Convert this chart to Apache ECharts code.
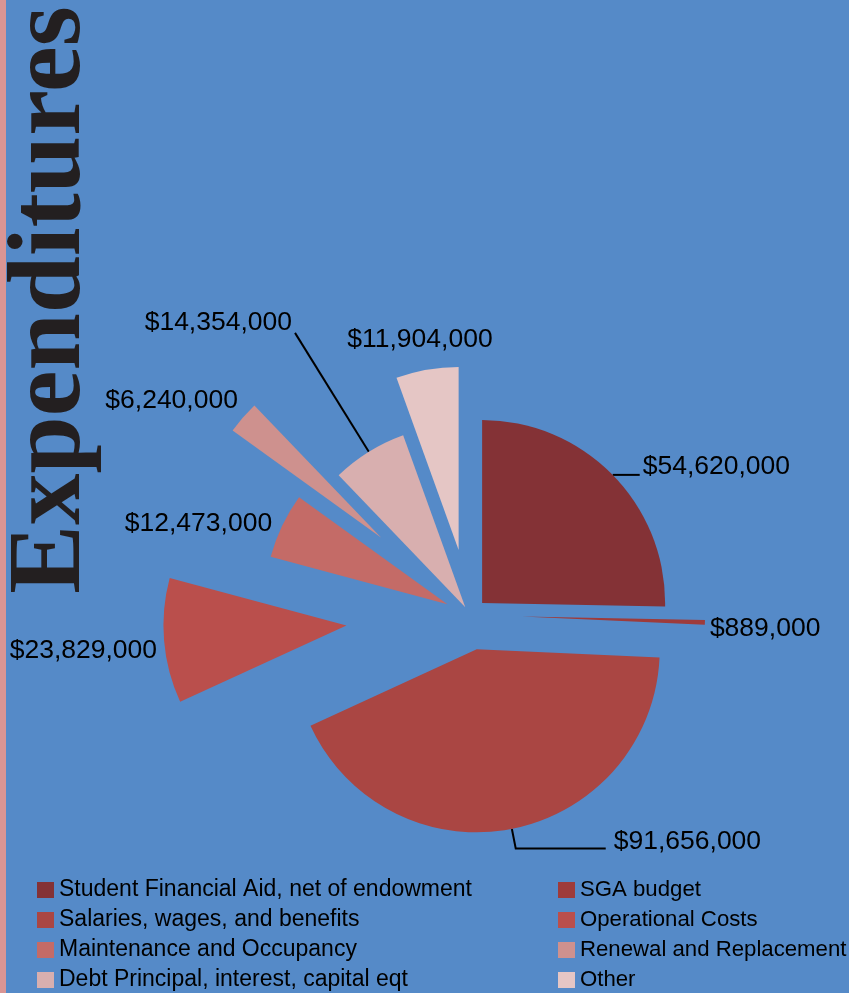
<!DOCTYPE html>
<html>
<head>
<meta charset="utf-8">
<script src="https://cdn.jsdelivr.net/npm/echarts@6/dist/echarts.min.js"></script>
<style>
html,body{margin:0;padding:0;background:#558AC8;}
#c{width:849px;height:993px;}
</style>
</head>
<body>
<div id="c"></div>
<script>
// ---- data ----
const title = 'Expenditures';
const categories = [
  'Student Financial Aid, net of endowment',
  'SGA budget',
  'Salaries, wages, and benefits',
  'Operational Costs',
  'Maintenance and Occupancy',
  'Renewal and Replacement',
  'Debt Principal, interest, capital eqt',
  'Other'
];
const values = [54620000, 889000, 91656000, 23829000, 12473000, 6240000, 14354000, 11904000];

// ---- styles ----
const colors = ['#843236', '#9E3B3B', '#AA4643', '#BA4F4C', '#C46B67', '#CE918E', '#D8AFAF', '#E5C6C5'];
const explode = [17, 52, 35, 124, 25, 118, 9, 66];
const labelStyles = [
  {line: true,  length: 0,   length2: 27, distance: 3,  vAlign: 'bottom', lh: 17},
  {line: false, length: 0,   length2: 0,  distance: 5,  vAlign: 'top',    lh: 12},
  {line: true,  length: 20,  length2: 90, distance: 8,  vAlign: 'bottom', lh: 14},
  {line: false, length: 0,   length2: 0,  distance: 7,  vAlign: 'top',    lh: 20},
  {line: false, length: 0,   length2: 0,  distance: 10, vAlign: 'bottom', lh: 4},
  {line: false, length: 0,   length2: 0,  distance: 5,  vAlign: 'bottom', lh: 34},
  {line: true,  length: 140, length2: 0,  distance: 3,  vAlign: 'bottom', lh: 20},
  {line: false, length: 30,  length2: 0,  distance: 2,  vAlign: 'middle', lh: 26, align: 'center'}
];

function money(v) { return '$' + v.toLocaleString('en-US'); }

const chart = echarts.init(document.getElementById('c'), null, {renderer: 'canvas'});

const series = categories.map((name, i) => {
  const ls = labelStyles[i];
  const layout = {verticalAlign: ls.vAlign};
  if (ls.align) layout.align = ls.align;
  return {
    type: 'pie',
    name: name,
    center: [470, 615],
    radius: 183,
    startAngle: 90,
    clockwise: true,
    avoidLabelOverlap: false,
    selectedMode: 'multiple',
    selectedOffset: explode[i],
    silent: true,
    emphasis: {disabled: true},
    select: {itemStyle: {color: colors[i], borderWidth: 0}},
    labelLayout: layout,
    data: categories.map((n, j) => ({
      name: n,
      value: values[j],
      selected: j === i,
      itemStyle: {color: j === i ? colors[j] : 'rgba(0,0,0,0)', borderWidth: 0},
      label: {show: j === i},
      labelLine: {show: j === i && ls.line}
    })),
    label: {
      position: 'outside',
      formatter: p => money(p.value),
      color: '#000',
      fontFamily: 'Liberation Sans',
      fontSize: 26.5,
      lineHeight: ls.lh,
      distanceToLabelLine: ls.distance
    },
    labelLine: {
      length: ls.length,
      length2: ls.length2,
      lineStyle: {color: '#000', width: 2}
    }
  };
});

chart.setOption({
  animation: false,
  backgroundColor: '#558AC8',
  graphic: [
    {type: 'rect', left: 0, top: 0, shape: {width: 6, height: 993}, style: {fill: '#D99594'}, silent: true},
    {
      type: 'text',
      x: 52, y: 300,
      rotation: Math.PI / 2,
      style: {
        text: title,
        fontFamily: 'Liberation Serif',
        fontWeight: 'bold',
        fontSize: 103,
        fill: '#231F20',
        align: 'center',
        verticalAlign: 'middle'
      },
      silent: true
    }
  ],
  legend: {
    left: 37,
    top: 875,
    width: 845,
    orient: 'horizontal',
    padding: 0,
    itemGap: 0,
    itemWidth: 17,
    itemHeight: 16,
    icon: 'rect',
    selectedMode: false,
    textStyle: {
      fontFamily: 'Liberation Sans',
      fontSize: 23,
      color: '#000',
      lineHeight: 30
    },
    data: categories.map((n, j) => {
      const item = {name: n, itemStyle: {color: colors[j], opacity: 1, borderWidth: 0}};
      item.textStyle = (j % 2 === 0) ? {width: 499} : {fontSize: 22.2};
      return item;
    })
  },
  series: series
});
</script>
</body>
</html>
